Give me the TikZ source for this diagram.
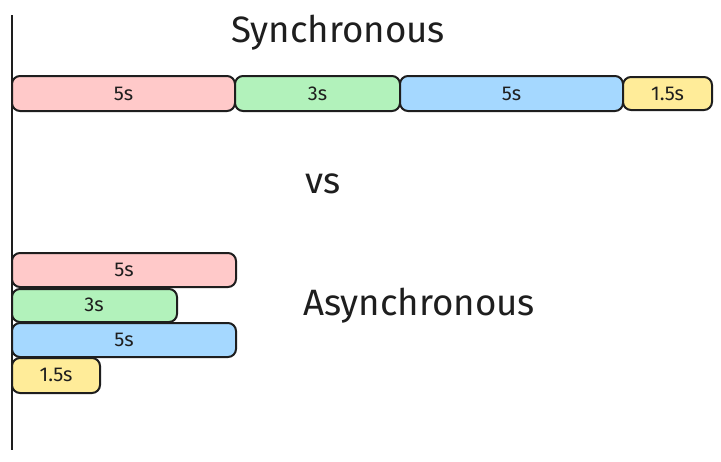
\documentclass[tikz,border=0pt]{standalone}
\usepackage{fontspec}
\setmainfont{Fira Sans}
\definecolor{ink}{HTML}{1E1E1E}
\definecolor{cpink}{HTML}{FFC9C9}
\definecolor{cgreen}{HTML}{B2F2BB}
\definecolor{cblue}{HTML}{A5D8FF}
\definecolor{cyellow}{HTML}{FFEC99}
\tikzset{
  bar/.style={draw=ink, line width=1.5pt, rounded corners=6pt},
  lbl/.style={text=ink, font=\fontsize{15}{17}\selectfont},
  title/.style={text=ink, font=\fontsize{27.5}{32}\selectfont},
}
\begin{document}
\begin{tikzpicture}[x=0.75pt,y=-0.75pt]
\useasboundingbox (0,0) rectangle (721,461);
\fill[white] (0,0) rectangle (721,461);
\coordinate (axtop) at (12,15);
\coordinate (axbot) at (12,450);
\draw[ink, line width=1.5pt] (axtop) -- (axbot);
% synchronous
\node[title] (sync) at (338,33) {Synchronous};
\filldraw[bar, fill=cpink] (12,76) rectangle (235,111);
\node[lbl] (s1) at (123.5,94) {5s};
\filldraw[bar, fill=cgreen] (235,76) rectangle (400,111);
\node[lbl] (s2) at (317.5,94) {3s};
\filldraw[bar, fill=cblue] (400,76) rectangle (623,111);
\node[lbl] (s3) at (511.5,94) {5s};
\filldraw[bar, fill=cyellow] (623,77) rectangle (712,110);
\node[lbl] (s4) at (667.5,94) {1.5s};
% vs
\node[title] (vs) at (323,184) {vs};
% asynchronous
\node[title] (async) at (419,306) {Asynchronous};
\filldraw[bar, fill=cpink] (12,253) rectangle (236,287);
\node[lbl] (a1) at (124,270) {5s};
\filldraw[bar, fill=cgreen] (12,289) rectangle (177,322);
\node[lbl] (a2) at (94,305) {3s};
\filldraw[bar, fill=cblue] (12,323) rectangle (236,357);
\node[lbl] (a3) at (124,340) {5s};
\filldraw[bar, fill=cyellow] (12,358) rectangle (100,393);
\node[lbl] (a4) at (56,375) {1.5s};
\end{tikzpicture}
\end{document}
